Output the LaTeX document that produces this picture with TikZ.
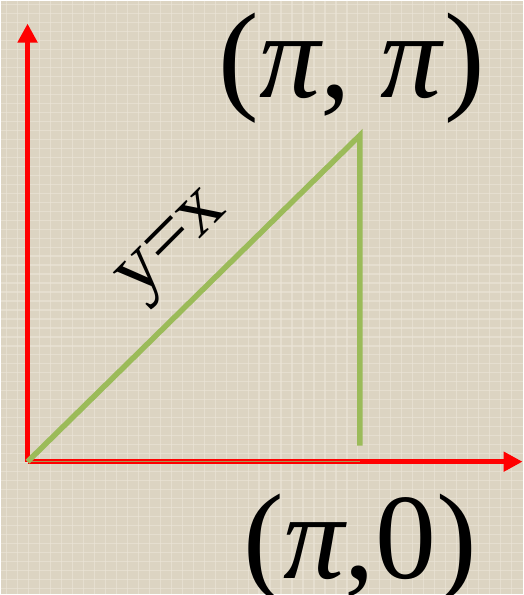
\documentclass[tikz,border=0pt]{standalone}
\usepackage{fontspec}
\setmainfont{Liberation Serif}
\usetikzlibrary{arrows.meta}
\definecolor{paper}{RGB}{220,212,194}
\definecolor{paperlight}{RGB}{236,230,216}
\definecolor{axisred}{RGB}{255,0,0}
\definecolor{linegreen}{RGB}{155,187,89}
\definecolor{olivegreen}{RGB}{168,150,82}

\begin{document}
\begin{tikzpicture}[x=1pt, y=-1pt,
    axis/.style={draw=axisred, line width=5.5pt,
                 -{Triangle[length=19pt, width=19pt]}},
    graph/.style={draw=linegreen, line width=5.5pt},
    baseline/.style={draw=olivegreen, line width=1.5pt},
    weave/.style={draw=paperlight, line width=1.2pt, opacity=0.6},
    coordlabel/.style={font=\fontsize{122}{122}\selectfont,
                       anchor=base, inner sep=0pt},
    funclabel/.style={font=\fontsize{80}{80}\selectfont,
                      rotate=45, inner sep=0pt}
]

%% Background with a light woven texture
\fill[paper] (0,0) rectangle (523,595);
\foreach \k in {4,13,...,590} \draw[weave] (0,\k) -- (523,\k);
\foreach \k in {6,17,...,520} \draw[weave] (\k,0) -- (\k,595);
\useasboundingbox (0,0) rectangle (523,595);

%% Points
\coordinate (O)  at (27,462);
\coordinate (xe) at (523,462);
\coordinate (ye) at (27,23);
\coordinate (P)  at (360,135);
\coordinate (Q)  at (360,446);
\coordinate (Qb) at (360,462);

%% Axes
\draw[axis] (O) -- (xe);
\draw[axis] (O) -- (ye);

%% Triangle
\draw[baseline] (O) -- (Qb);
\draw[graph] (O) -- (P) -- (Q);

%% Labels
\node[coordlabel] (Plab) at (352,97) {(\textit{π}, \textit{π})};
\node[coordlabel] (Qlab) at (360,579) {(\textit{π},0)};
\node[funclabel] (diag) at (176,248) {y=x};

\end{tikzpicture}
\end{document}
